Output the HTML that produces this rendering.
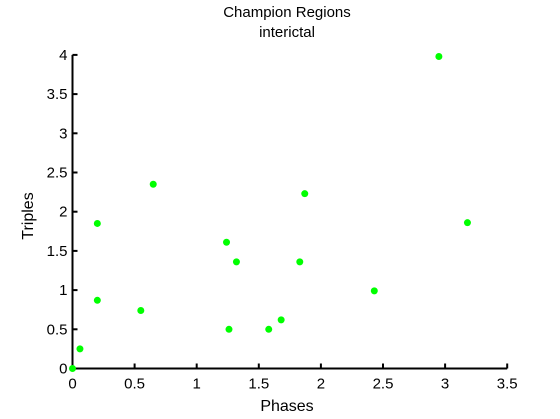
<!DOCTYPE html>
<html><head><meta charset="utf-8"><style>
body{margin:0;background:#fff;}
svg{display:block;font-family:"Liberation Sans",Arial,sans-serif;}
</style></head><body>
<svg id="chart" width="560" height="419">
<g id="axes"></g><g id="marks"></g>
</svg>
<script>
const phases=[0,0.06,0.2,0.2,0.55,0.65,1.24,1.26,1.32,1.58,1.68,1.83,1.87,2.43,2.95,3.18];
const triples=[0,0.25,0.87,1.85,0.74,2.35,1.61,0.5,1.36,0.5,0.62,1.36,2.23,0.99,3.98,1.86];
const xTicks=[0,0.5,1,1.5,2,2.5,3,3.5];
const yTicks=[0,0.5,1,1.5,2,2.5,3,3.5,4];
const NS="http://www.w3.org/2000/svg";
const x0=72.5,xs=124.2,y0=368.5,ys=78.4;
function X(v){return x0+v*xs;}
function Y(v){return y0-v*ys;}
function mk(t,a,p,txt){const e=document.createElementNS(NS,t);for(const k in a)e.setAttribute(k,a[k]);if(txt!==undefined)e.textContent=txt;p.appendChild(e);return e;}
const ax=document.getElementById('axes'),mg=document.getElementById('marks');
let e=mk('line',{x1:X(0),y1:Y(0),x2:X(3.5),y2:Y(0),stroke:'#000','stroke-width':2},ax);


e=mk('line',{x1:X(0),y1:Y(0),x2:X(0),y2:Y(4),stroke:'#000','stroke-width':2},ax);


xTicks.forEach(v=>{
  mk('line',{x1:X(v),y1:Y(0),x2:X(v),y2:Y(0)-5,stroke:'#000','stroke-width':2},ax);
  const t=mk('text',{x:X(v),y:Y(0)+20,'text-anchor':'middle','font-size':15},ax,String(v));
  
  
});
yTicks.forEach(v=>{
  mk('line',{x1:X(0),y1:Y(v),x2:X(0)+5,y2:Y(v),stroke:'#000','stroke-width':2},ax);
  const t=mk('text',{x:X(0)-5,y:Y(v)+5,'text-anchor':'end','font-size':15},ax,String(v));
  
  
});
e=mk('text',{x:287,y:411,'text-anchor':'middle','font-size':16},ax,'Phases');


e=mk('text',{x:33,y:216,'text-anchor':'middle','font-size':16,transform:'rotate(-90 33 216)'},ax,'Triples');


e=mk('text',{x:287,y:17,'text-anchor':'middle','font-size':15},ax,'Champion Regions');


e=mk('text',{x:287,y:37,'text-anchor':'middle','font-size':15},ax,'interictal');


phases.forEach((p,i)=>{
  const c=mk('circle',{cx:X(p),cy:Y(triples[i]),r:3.5,fill:'#00ff00'},mg);
  
  
});
</script>
</body></html>
